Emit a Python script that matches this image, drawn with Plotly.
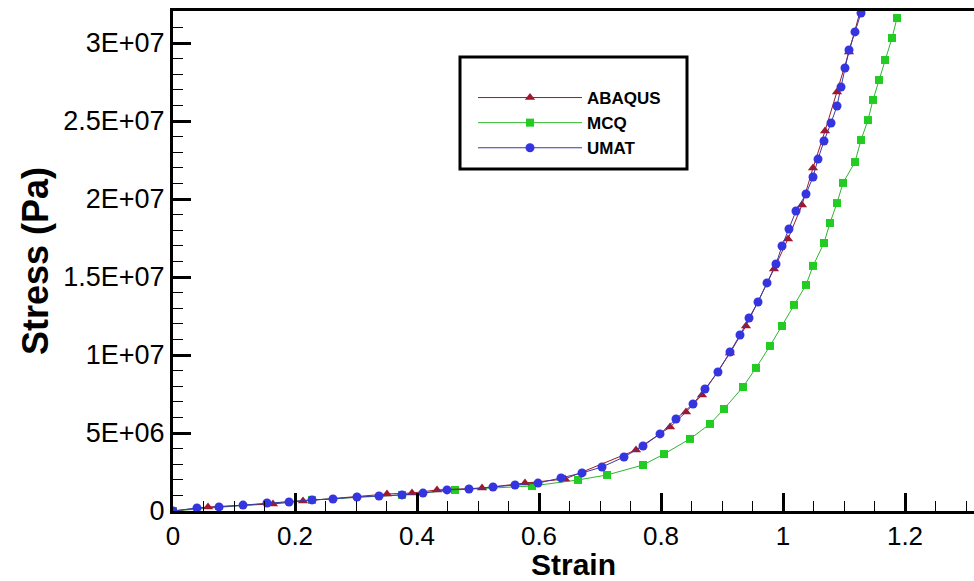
import plotly.graph_objects as go

# ---------------- data ----------------
umat_strain = [0.0, 0.0393, 0.0754, 0.1148, 0.1541, 0.1902, 0.2279, 0.2623, 0.3016, 0.3377,
               0.3754, 0.4098, 0.4492, 0.4852, 0.5246, 0.5607, 0.5984, 0.6361, 0.6705, 0.7033,
               0.7393, 0.7705, 0.7984, 0.8246, 0.8525, 0.8721, 0.8934, 0.9131, 0.9295, 0.9443,
               0.9590, 0.9738, 0.9885, 0.9984, 1.0098, 1.0213, 1.0377, 1.0492, 1.0574, 1.0672,
               1.0787, 1.0885, 1.0951, 1.1016, 1.1082, 1.1180, 1.1279]
umat_stress = [0.0, 0.19e6, 0.26e6, 0.38e6, 0.51e6, 0.58e6, 0.71e6, 0.77e6, 0.90e6, 0.96e6,
               1.03e6, 1.15e6, 1.35e6, 1.41e6, 1.54e6, 1.67e6, 1.79e6, 2.12e6, 2.44e6, 2.82e6,
               3.46e6, 4.17e6, 4.94e6, 5.90e6, 6.86e6, 7.82e6, 8.91e6, 10.19e6, 11.28e6, 12.37e6,
               13.40e6, 14.62e6, 15.83e6, 16.99e6, 18.08e6, 19.23e6, 20.32e6, 21.41e6, 22.56e6, 23.72e6,
               24.87e6, 25.96e6, 27.18e6, 28.40e6, 29.55e6, 30.71e6, 31.92e6]

abaqus_strain = [0.0, 0.0574, 0.1639, 0.2131, 0.3508, 0.3918, 0.4328, 0.5066, 0.5770, 0.6426,
                 0.7590, 0.8148, 0.8410, 0.8672, 0.9131, 0.9393, 0.9852, 1.0082, 1.0311, 1.0492,
                 1.0689, 1.0885, 1.1082, 1.1279]
abaqus_stress = [0.0, 0.26e6, 0.45e6, 0.64e6, 1.09e6, 1.15e6, 1.35e6, 1.47e6, 1.79e6, 2.05e6,
                 3.91e6, 5.38e6, 6.35e6, 7.44e6, 10.13e6, 11.86e6, 15.51e6, 17.44e6, 19.62e6, 21.99e6,
                 24.36e6, 26.86e6, 29.42e6, 32.24e6]

mcq_strain = [0.0, 0.2279, 0.3754, 0.4623, 0.5885, 0.6639, 0.7115, 0.7705, 0.8049, 0.8475,
              0.8803, 0.9033, 0.9344, 0.9557, 0.9787, 0.9984, 1.0180, 1.0377, 1.0492, 1.0672,
              1.0770, 1.0885, 1.0984, 1.1180, 1.1279, 1.1393, 1.1475, 1.1574, 1.1672, 1.1787,
              1.1869]
mcq_stress = [0.0, 0.71e6, 1.03e6, 1.35e6, 1.60e6, 1.99e6, 2.31e6, 2.95e6, 3.65e6, 4.62e6,
              5.58e6, 6.54e6, 7.95e6, 9.17e6, 10.58e6, 11.86e6, 13.21e6, 14.49e6, 15.71e6, 17.18e6,
              18.46e6, 19.74e6, 21.03e6, 22.37e6, 23.78e6, 25.06e6, 26.35e6, 27.63e6, 28.91e6, 30.32e6,
              31.60e6]

x_tick_step = 0.2
y_tick_step = 5e6
y_tickvals = [0, 5e6, 1e7, 1.5e7, 2e7, 2.5e7, 3e7]
y_ticktext = ["0", "5E+06", "1E+07", "1.5E+07", "2E+07", "2.5E+07", "3E+07"]

FONT = "Liberation Sans, Arial, sans-serif"


def label_variants(v):
    """Possible default Plotly renderings of a tick value (for labelalias)."""
    iv = int(round(v))
    out = {str(iv), f"{iv:,}"}
    out.add(("%g" % (v / 1e7)) + "E+7")
    out.add(("%g" % (v / 1e6)) + "E+6")
    out.add(("%g" % (v / 1e6)) + "M")
    return out


y_alias = {}
for val, txt in zip(y_tickvals, y_ticktext):
    for k in label_variants(val):
        y_alias[k] = txt

fig = go.Figure()
fig.add_trace(go.Scatter(x=mcq_strain, y=mcq_stress, name="MCQ", mode="lines+markers",
                         line=dict(color="#2fb52f", width=1),
                         marker=dict(symbol="square", size=8, color="#22cc22")))
fig.add_trace(go.Scatter(x=abaqus_strain, y=abaqus_stress, name="ABAQUS", mode="lines+markers",
                         line=dict(color="#9a1a2a", width=1),
                         marker=dict(symbol="triangle-up", size=9, color="#a0182e")))
fig.add_trace(go.Scatter(x=umat_strain, y=umat_stress, name="UMAT", mode="lines+markers",
                         line=dict(color="#3a3aa8", width=1),
                         marker=dict(symbol="circle", size=9, color="#3434e0")))

fig.data[0].legendrank = 2
fig.data[1].legendrank = 1
fig.data[2].legendrank = 3

fig.update_layout(
    width=974, height=581,
    margin=dict(l=173, r=0, t=11, b=70),
    paper_bgcolor="white", plot_bgcolor="white",
    font=dict(family=FONT, color="black"),
    showlegend=True,
    legend=dict(x=(473 - 173) / 801, y=(511 - 80) / 500, xanchor="left", yanchor="top",
                bgcolor="rgba(0,0,0,0)", borderwidth=0, traceorder="normal",
                font=dict(family=FONT, size=17, color="black", weight="bold"),
                itemwidth=104, tracegroupgap=0),
    shapes=[dict(type="rect", xref="paper", yref="paper",
                 x0=(460 - 173) / 801, x1=(687 - 173) / 801,
                 y0=(511 - 169) / 500, y1=(511 - 57) / 500,
                 line=dict(color="black", width=3), fillcolor="rgba(0,0,0,0)")],
)

fig.update_xaxes(
    range=[0, 801 / 610], showgrid=False, zeroline=False,
    showline=True, linecolor="black", linewidth=3, mirror=True,
    tickmode="linear", tick0=0, dtick=x_tick_step,
    ticks="inside", ticklen=18, tickwidth=3, tickcolor="black",
    tickfont=dict(family=FONT, size=26, color="black"),
    minor=dict(ticks="inside", ticklen=10, tickwidth=1, tickcolor="black",
               dtick=x_tick_step / 4, tick0=0, showgrid=False),
    title=dict(text="Strain", font=dict(family=FONT, size=30, color="black", weight="bold"), standoff=2),
)
fig.update_yaxes(
    range=[0, 500 / 78 * 5e6], showgrid=False, zeroline=False,
    showline=True, linecolor="black", linewidth=3,
    tickmode="linear", tick0=0, dtick=y_tick_step,
    exponentformat="E", showexponent="all",
    labelalias=y_alias,
    ticks="inside", ticklen=18, tickwidth=3, tickcolor="black",
    tickfont=dict(family=FONT, size=27, color="black"),
    minor=dict(ticks="inside", ticklen=10, tickwidth=1, tickcolor="black",
               dtick=y_tick_step / 5, tick0=0, showgrid=False),
    title=dict(text="Stress (Pa)", font=dict(family=FONT, size=36, color="black", weight="bold"), standoff=4),
)

fig.write_html("out.html")
